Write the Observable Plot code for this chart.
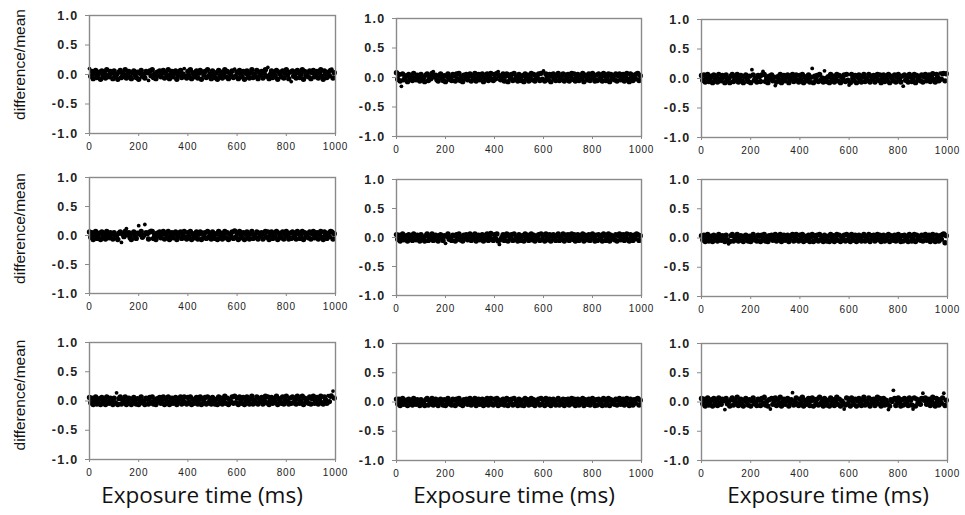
<!DOCTYPE html>
<html><head><meta charset="utf-8">
<script src="https://cdn.jsdelivr.net/npm/d3@7"></script>
<script src="https://cdn.jsdelivr.net/npm/@observablehq/plot@0.6"></script>
<style>
body{margin:0;background:#fff;}
#wrap{position:relative;width:965px;height:515px;overflow:hidden;background:#fff;}
.panel{position:absolute;}
.panel svg{overflow:visible;}
.panel g[aria-label="y-axis tick label"] text{letter-spacing:1.3px;}
.panel g[aria-label="x-axis tick label"] text{letter-spacing:0.8px;}
.xlab{position:absolute;font-family:"Open Sans",sans-serif;font-size:22.5px;color:#111;transform:translate(-50%,-50%);white-space:nowrap;}
</style></head><body><div id="wrap"></div>
<script>
// Exposure time (ms) sampling grid, 5 ms steps from 0 to 995
const exposureTimes = d3.range(0, 1000, 5);
const yTicks = [-1, -0.5, 0, 0.5, 1];
const xTicks = [0, 200, 400, 600, 800, 1000];
const yLabel = "difference/mean";
const xLabel = "Exposure time (ms)";

// difference/mean values (row, column)
const r1c1 = [.10,-.03,.05,-.07,.01,.07,-.05,.00,.04,-.08,.06,-.02,.03,-.06,.08,-.01,-.04,.05,.02,-.07,
.06,-.03,.00,-.08,.04,.07,-.05,.02,-.02,.08,-.06,.01,.05,-.04,-.07,.03,.06,-.01,-.05,.04,
-.08,.02,.07,-.03,.00,-.06,.05,.03,-.10,.06,-.02,.08,-.05,.01,-.07,.04,-.01,.06,-.04,.02,
.07,-.06,.03,-.02,.08,-.07,.00,.05,-.04,.02,.06,-.08,-.01,.04,.07,-.05,.01,.10,-.03,-.06,
.05,-.02,.08,-.07,.03,-.04,.00,.06,-.06,.02,.07,-.08,.04,-.01,.05,-.05,.08,-.03,.01,-.07,
.06,.00,-.05,.03,-.08,.07,-.02,.04,-.06,.01,.08,-.04,.05,-.07,.02,-.01,.06,-.05,.09,-.03,
.04,-.07,.07,.00,-.04,.05,-.08,.02,.06,-.02,-.06,.03,.08,-.05,.01,-.03,.07,-.07,.04,-.01,
.05,-.06,.02,.08,-.03,.12,-.07,.00,.06,-.05,.03,-.02,.07,-.08,.04,.01,-.04,.06,-.06,.02,
.08,-.01,-.07,.04,-.12,.06,-.03,.01,-.06,.07,.03,-.05,.00,.08,-.08,.05,-.02,.02,-.04,.06,
-.07,.03,.07,-.04,.00,.05,-.06,.02,.08,-.03,-.08,.06,.01,-.05,.04,-.02,.07,.09,-.06,.03];

const r1c2 = [.08,-.03,.05,-.06,-.15,.06,-.04,.00,.03,-.07,.05,-.02,.02,-.05,.07,-.01,-.04,.04,.01,-.06,
.05,-.03,.00,-.07,.04,.06,-.05,.02,-.02,.07,.10,.01,.04,-.04,-.06,.03,.06,-.01,-.05,.03,
-.07,.02,.06,-.03,.00,-.05,.05,.03,-.06,.06,-.02,.07,-.05,.01,-.07,.04,-.01,.05,-.04,.02,
.06,-.06,.03,-.02,.07,-.06,.00,.05,-.04,.02,.06,-.07,-.01,.04,.06,-.05,.01,.07,-.03,-.05,
.05,-.02,.07,.10,.03,-.04,.00,.06,-.06,.02,.06,-.07,.04,-.01,.05,-.05,.07,-.03,.01,-.06,
.05,.00,-.05,.03,-.07,.06,-.02,.04,-.06,.01,.07,-.04,.05,-.06,.02,-.01,.06,-.05,.07,-.03,
.11,-.06,.06,.00,-.04,.05,-.07,.02,.06,-.02,-.05,.03,.07,-.05,.01,-.03,.06,-.06,.04,-.01,
.05,-.06,.02,.07,-.03,.06,-.06,.00,.05,-.05,.03,-.02,.07,-.07,.04,.01,-.04,.06,-.05,.02,
.07,-.01,-.06,.04,-.05,.06,-.03,.01,-.06,.07,.03,-.05,.00,.06,-.07,.05,-.02,.02,-.04,.06,
-.06,.03,.06,-.04,.00,.05,-.06,.02,.07,-.03,-.07,.06,.01,-.05,.04,-.02,.06,.07,-.05,.03];

const r1c3 = [.05,-.03,.06,-.06,.01,.07,-.05,.00,.04,-.07,.06,-.02,.03,-.06,.07,-.01,-.04,.05,.02,-.07,
.06,-.03,.00,-.07,.04,.07,-.05,.02,-.02,.07,-.06,.01,.05,-.04,-.07,.03,.06,-.01,-.05,.04,
-.07,.15,.06,-.03,.00,-.06,.05,.03,-.05,.06,.12,.07,-.05,.01,-.07,.04,-.01,.06,-.04,.02,
-.12,-.06,.03,-.02,.07,-.07,.00,.05,-.04,.02,.06,-.07,-.01,.04,.07,-.05,.01,.06,-.03,-.06,
.05,-.02,.07,-.07,.03,-.04,.00,.06,-.06,.02,.17,-.07,.04,-.01,.05,-.05,.07,-.03,.01,-.06,
.13,.00,-.05,.03,-.07,.07,-.02,.04,-.06,.01,.07,-.04,.05,-.07,.02,-.01,.06,-.05,.07,-.03,
-.11,-.07,.07,.00,-.04,.05,-.07,.02,.06,-.02,-.06,.03,.07,-.05,.01,-.03,.07,-.06,.04,-.01,
.05,-.06,.02,.07,-.03,.06,-.07,.00,.06,-.05,.03,-.02,.07,-.07,.04,.01,-.04,.06,-.06,.02,
.07,-.01,-.06,.04,-.13,.06,-.03,.01,-.06,.07,.03,-.05,.00,.07,-.07,.05,-.02,.02,-.04,.06,
-.06,.03,.07,-.04,.01,.06,-.05,.03,.08,-.02,-.06,.07,.02,-.04,.09,-.01,.08,.10,-.04,.08];

const r2c1 = [.06,-.03,.05,-.07,.01,.07,-.05,.00,.04,-.07,.06,-.02,.03,-.06,.07,-.01,-.04,.05,.02,-.06,
.05,-.03,.00,-.07,.04,.06,-.12,.02,-.02,.07,.12,.01,.05,-.04,-.07,.03,.06,-.01,-.05,.04,
.17,.02,.07,-.03,.00,.19,.05,.03,-.06,.06,.09,.07,-.05,.01,-.07,.04,-.01,.06,-.04,.02,
.07,-.06,.03,-.02,.07,-.07,.00,.05,-.04,.02,.06,-.07,-.01,.04,.06,-.05,.01,.07,-.03,-.06,
.05,-.02,.07,-.07,.03,-.04,.00,.06,-.06,.02,.06,-.07,.04,-.01,.05,-.05,.07,-.03,.01,-.06,
.06,.00,-.05,.03,-.07,.07,-.02,.04,-.06,.01,.07,-.04,.05,-.07,.02,-.01,.06,-.05,.08,-.03,
.04,-.07,.07,.00,-.04,.05,-.07,.02,.06,-.02,-.06,.03,.07,-.05,.01,-.03,.06,-.06,.04,-.01,
.05,-.06,.02,.07,-.03,.06,-.07,.00,.06,-.05,.03,-.02,.07,-.07,.04,.01,-.04,.06,-.06,.02,
.07,-.01,-.06,.04,-.05,.06,-.03,.01,-.06,.07,.03,-.05,.00,.07,-.07,.05,-.02,.02,-.04,.06,
-.06,.03,.07,-.04,.00,.05,-.06,.02,.07,-.03,-.07,.06,.01,-.05,.04,-.02,.07,.06,-.06,.03];

const r2c2 = [.05,-.03,.04,-.06,.01,.06,-.04,.00,.03,-.06,.05,-.02,.02,-.05,.06,-.01,-.04,.04,.01,-.06,
.05,-.02,.00,-.06,.03,.06,-.05,.02,-.02,.06,-.05,.01,.04,-.04,-.06,.03,.05,-.01,-.05,.03,
-.10,.02,.06,-.03,.00,-.05,.04,.03,-.06,.05,-.02,.06,-.04,.01,-.06,.04,-.01,.05,-.04,.02,
.06,-.05,.03,-.02,.06,-.06,.00,.04,-.04,.02,.05,-.06,-.01,.04,.06,-.05,.01,.07,-.03,-.05,
.05,-.02,.06,-.06,-.12,-.04,.00,.05,-.05,.02,.06,-.06,.04,-.01,.05,-.05,.06,-.03,.01,-.06,
.05,.00,-.05,.03,-.06,.06,-.02,.04,-.05,.01,.06,-.04,.04,-.06,.02,-.01,.05,-.05,.06,-.03,
.04,-.06,.06,.00,-.04,.05,-.06,.02,.05,-.02,-.05,.03,.06,-.05,.01,-.03,.06,-.06,.04,-.01,
.05,-.05,.02,.06,-.03,.05,-.06,.00,.05,-.05,.03,-.02,.06,-.06,.04,.01,-.04,.05,-.05,.02,
.06,-.01,-.06,.04,-.05,.05,-.03,.01,-.06,.06,.03,-.05,.00,.06,-.06,.04,-.02,.02,-.04,.05,
-.06,.03,.06,-.04,.00,.05,-.05,.02,.06,-.03,-.06,.05,.01,-.05,.04,-.02,.06,.05,-.05,.03];

const r2c3 = [.04,-.03,.05,-.06,.01,.06,-.05,.00,.03,-.06,.05,-.02,.02,-.05,.06,-.01,-.04,.04,.01,-.06,
.05,-.03,-.10,-.06,.04,.06,-.05,.02,-.02,.06,-.05,.01,.04,-.04,-.06,.03,.05,-.01,-.05,.03,
-.06,.02,.06,-.03,.00,-.05,.05,.03,-.06,.05,-.02,.06,-.05,.01,-.06,.04,-.01,.05,-.04,.02,
.06,-.05,.03,-.02,.06,-.06,.00,.05,-.04,.02,.05,-.06,-.01,.04,.06,-.05,.01,.06,-.03,-.05,
.05,-.02,.06,-.06,.03,-.04,.00,.05,-.06,.02,.06,-.06,.04,-.01,.05,-.05,.06,-.03,.01,-.06,
.05,.00,-.05,.03,-.06,.06,-.02,.04,-.06,.01,.06,-.04,.05,-.06,.02,-.01,.05,-.05,.06,-.03,
.04,-.06,.06,.00,-.04,.05,-.06,.02,.05,-.02,-.05,.03,.06,-.05,.01,-.03,.06,-.06,.04,-.01,
.05,-.05,.02,.06,-.03,.05,-.06,.00,.05,-.05,.03,-.02,.06,-.06,.04,.01,-.04,.05,-.05,.02,
.06,-.01,-.06,.04,-.05,.05,-.03,.01,-.06,.06,.03,-.05,.00,.06,-.06,.05,-.02,.02,-.04,.05,
-.05,.03,.06,-.04,.00,.05,-.06,.02,.06,-.03,-.06,.05,.01,-.05,.04,-.02,.06,.07,-.08,.04];

const r3c1 = [.06,-.03,.05,-.06,.01,.07,-.05,.00,.04,-.06,.06,-.02,.03,-.06,.07,-.01,-.04,.05,.02,-.06,
.05,-.03,.14,-.06,.04,.07,-.05,.02,-.02,.07,-.06,.01,.05,-.04,-.06,.03,.06,-.01,-.05,.04,
-.06,.02,.07,-.03,.00,-.06,.05,.03,-.05,.06,-.02,.07,-.05,.01,-.06,.04,-.01,.06,-.04,.02,
.07,-.06,.03,-.02,.07,-.06,.00,.05,-.04,.02,.06,-.06,-.01,.04,.07,-.05,.01,.07,-.03,-.05,
.06,-.02,.07,-.06,.03,-.04,.00,.06,-.05,.02,.07,-.06,.04,-.01,.06,-.05,.07,-.03,.01,-.05,
.06,.00,-.05,.03,-.06,.07,-.02,.05,-.05,.01,.08,-.04,.05,-.06,.02,-.01,.07,-.04,.08,-.03,
.05,-.06,.07,.00,-.04,.06,-.06,.02,.07,-.02,-.05,.03,.08,-.05,.01,-.03,.07,-.05,.04,-.01,
.06,-.05,.02,.08,-.03,.07,-.06,.01,.06,-.04,.03,-.02,.08,-.06,.04,.01,-.04,.07,-.05,.02,
.08,-.01,-.05,.05,-.04,.07,-.03,.02,-.05,.08,.03,-.04,.00,.08,-.06,.05,-.02,.03,-.04,.07,
-.05,.04,.08,-.04,.01,.06,-.05,.03,.08,-.03,-.05,.07,.02,-.04,.09,-.01,.08,.10,.17,.05];

const r3c2 = [.05,-.03,.05,-.06,.01,.06,-.04,.00,.03,-.06,.05,-.02,.02,-.05,.06,-.01,-.04,.04,.01,-.06,
.04,-.03,.00,-.06,.04,.06,-.05,.02,-.02,.06,-.05,.01,.05,-.04,-.06,.03,.05,-.01,-.05,.04,
-.06,.02,.06,-.03,.00,-.05,.05,.03,-.06,.05,-.02,.06,-.04,.01,-.06,.04,-.01,.05,-.04,.02,
.06,-.05,.03,-.02,.06,-.06,.00,.05,-.04,.02,.05,-.06,-.01,.04,.06,-.05,.01,.06,-.03,-.05,
.05,-.02,.06,-.06,.03,-.04,.00,.05,-.05,.02,.06,-.06,.04,-.01,.05,-.05,.06,-.03,.01,-.06,
.05,.00,-.05,.03,-.06,.06,-.02,.04,-.05,.01,.06,-.04,.04,-.06,.02,-.01,.05,-.05,.06,-.03,
.04,-.06,.06,.00,-.04,.05,-.06,.02,.05,-.02,-.05,.03,.06,-.05,.01,-.03,.05,-.06,.04,-.01,
.05,-.05,.02,.06,-.03,.05,-.06,.00,.05,-.05,.03,-.02,.06,-.06,.04,.01,-.04,.05,-.05,.02,
.06,-.01,-.06,.04,-.05,.05,-.03,.01,-.06,.06,.03,-.05,.00,.06,-.06,.04,-.02,.02,-.04,.05,
-.05,.03,.06,-.04,.00,.05,-.05,.02,.06,-.03,-.06,.05,.01,-.05,.04,-.02,.05,.06,-.05,.03];

const r3c3 = [.06,-.03,.05,-.07,.01,.07,-.05,.00,.04,-.07,.06,-.02,.03,-.06,.07,-.01,-.04,.05,.02,-.13,
.06,-.03,.00,-.07,.04,.07,-.05,.02,-.02,.08,-.06,.01,.05,-.04,-.07,.03,.06,-.01,-.05,.04,
-.07,.02,.07,-.03,.00,-.06,.05,.03,-.06,.06,-.02,.08,-.05,.01,-.07,.04,-.12,.06,-.04,.02,
.07,-.06,.03,-.02,.08,-.07,.00,.05,-.04,.02,.06,-.07,-.01,.04,.16,-.05,.01,.07,-.03,-.06,
.05,-.02,.08,-.07,.03,-.04,.00,.06,-.06,.02,.07,-.07,.04,-.01,.05,-.05,.08,-.03,.01,-.07,
.06,.00,-.05,.03,-.07,.07,-.02,.04,-.06,.01,.08,-.04,.05,-.07,.02,-.01,-.12,-.05,.07,-.03,
.04,-.07,.07,.00,-.04,.05,-.07,.02,.06,-.02,-.06,.03,.08,-.05,.01,-.03,.07,-.07,.04,-.01,
.05,-.06,.02,.08,-.03,.06,-.07,.00,.06,-.05,.03,-.02,-.13,-.07,.04,.01,.20,.06,-.06,.02,
.07,-.01,-.07,.04,-.05,.06,-.03,.01,-.06,.07,.03,-.05,-.12,.07,-.07,.05,-.02,.02,-.04,.06,
.15,.03,.07,-.04,.00,.05,-.06,.02,.08,-.03,-.07,.06,.01,-.05,.04,-.02,.07,.15,-.06,.03];

const panelValues = [[r1c1, r1c2, r1c3], [r2c1, r2c2, r2c3], [r3c1, r3c2, r3c3]];

// layout: plot frame [left, top, right, bottom] in page pixels
const frames = [
  [[89,15,335,133],[396,18,641,136],[701,19,947,137]],
  [[89,177,335,293],[396,179,641,295],[701,179,947,296]],
  [[89,342,335,459],[396,343,641,460],[701,343,947,460]]
];
const labelShift = [-10, -7, -6];
const xLabelCenters = [202, 514, 828];

const wrap = document.getElementById("wrap");
const MT = 8, MR = 16, MB = 26;

panelValues.forEach((row, ri) => {
  row.forEach((vals, ci) => {
    const [L, T, R, B] = frames[ri][ci];
    const ML = ci === 0 ? L : 60;
    const data = vals.map((v, i) => ({t: exposureTimes[i], v}));
    const marks = [
      // dense core drawn with wider dots so it merges into a solid band; isolated points smaller
      Plot.dot(data, {x: "t", y: "v", r: d => Math.abs(d.v) > 0.085 ? 1.9 : 2.7, fill: "#000", stroke: "none"}),
      Plot.frame({stroke: "#8a8a8a", strokeWidth: 1.4}),
      Plot.axisY({ticks: yTicks, tickFormat: d => d.toFixed(1), tickSize: 4, tickPadding: 7,
        fontSize: 12.5, fontWeight: "bold", stroke: "#8a8a8a", fill: "#222", label: null}),
      Plot.axisX({ticks: xTicks, tickFormat: d => String(d), tickSize: 3, tickPadding: 6,
        fontSize: 10, stroke: "#8a8a8a", fill: "#222", label: null})
    ];
    if (ci === 0) {
      marks.push(Plot.text([yLabel], {frameAnchor: "left", rotate: -90, dx: 24 - L, dy: labelShift[ri],
        lineAnchor: "bottom", textAnchor: "middle", fontSize: 15.5,
        fontFamily: "'Liberation Sans Narrow', 'Arial Narrow', sans-serif", fill: "#111"}));
    }
    const p = Plot.plot({
      width: (R - L) + ML + MR,
      height: (B - T) + MT + MB,
      marginLeft: ML, marginTop: MT, marginRight: MR, marginBottom: MB,
      style: {background: "transparent", fontFamily: "'Liberation Sans', Arial, sans-serif", color: "#222"},
      x: {domain: [0, 1000]},
      y: {domain: [-1, 1]},
      r: {type: "identity"},
      marks
    });
    const div = document.createElement("div");
    div.className = "panel";
    div.style.left = (L - ML) + "px";
    div.style.top = (T - MT) + "px";
    div.appendChild(p);
    wrap.appendChild(div);
  });
});

xLabelCenters.forEach(cx => {
  const d = document.createElement("div");
  d.className = "xlab";
  d.textContent = xLabel;
  d.style.left = cx + "px";
  d.style.top = "494px";
  wrap.appendChild(d);
});
</script>
</body></html>
